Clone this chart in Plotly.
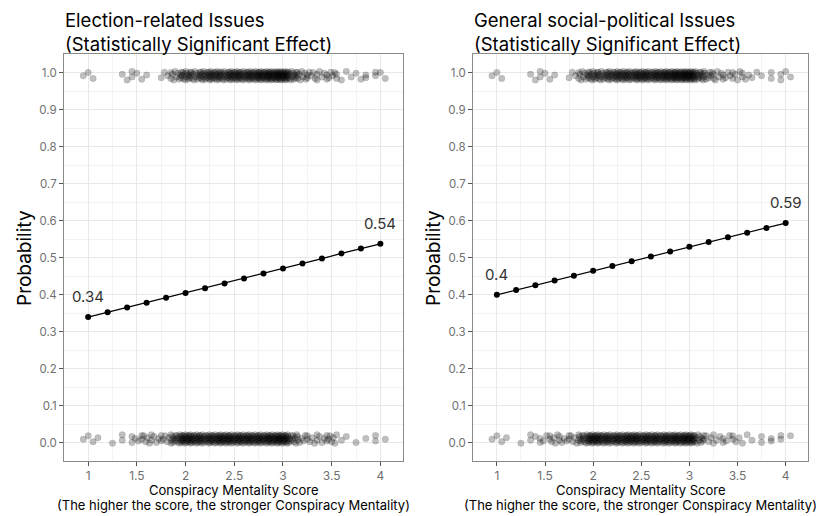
import plotly.graph_objects as go

# ---------------- data ----------------
SCORE_LEVELS = [1.0, 1.1, 1.2, 1.3, 1.4, 1.5, 1.6, 1.7, 1.8, 1.9, 2.0,
                2.1, 2.2, 2.3, 2.4, 2.5, 2.6, 2.7, 2.8, 2.9, 3.0,
                3.1, 3.2, 3.3, 3.4, 3.5, 3.6, 3.7, 3.8, 3.9, 4.0]

# number of respondents per score level (outcome = 1 / outcome = 0)
ELECTION_YES = [3, 0, 0, 0, 3, 3, 1, 0, 4, 8, 14, 12, 16, 18, 16, 20, 18, 20, 22, 24, 26,
                14, 8, 6, 5, 6, 3, 1, 3, 2, 3]
ELECTION_NO = [3, 1, 0, 2, 2, 4, 6, 5, 6, 14, 22, 20, 18, 20, 22, 20, 20, 20, 20, 22, 24,
               12, 6, 5, 5, 7, 1, 2, 0, 2, 2]
SOCIAL_YES = [3, 0, 0, 0, 3, 3, 1, 0, 4, 9, 14, 13, 16, 18, 17, 20, 18, 20, 22, 24, 26,
              15, 9, 6, 5, 5, 4, 1, 2, 2, 3]
SOCIAL_NO = [3, 1, 0, 2, 3, 4, 6, 5, 6, 14, 22, 19, 18, 19, 21, 19, 20, 19, 20, 21, 23,
             11, 5, 4, 4, 4, 1, 2, 2, 2, 2]

CURVE_X = [1.0, 1.2, 1.4, 1.6, 1.8, 2.0, 2.2, 2.4, 2.6, 2.8, 3.0, 3.2, 3.4, 3.6, 3.8, 4.0]
ELECTION_PROB = [0.340, 0.353, 0.366, 0.379, 0.392, 0.405, 0.418, 0.431,
                 0.444, 0.458, 0.471, 0.485, 0.498, 0.512, 0.525, 0.538]
SOCIAL_PROB = [0.400, 0.413, 0.426, 0.439, 0.452, 0.465, 0.478, 0.491,
               0.504, 0.517, 0.530, 0.543, 0.556, 0.568, 0.581, 0.594]

X_TICKS = [1, 1.5, 2, 2.5, 3, 3.5, 4]
Y_TICKS = [0.0, 0.1, 0.2, 0.3, 0.4, 0.5, 0.6, 0.7, 0.8, 0.9, 1.0]

PANEL_TITLES = ["Election-related Issues<br>(Statistically Significant Effect)",
                "General social-political Issues<br>(Statistically Significant Effect)"]
X_TITLE_1 = "Conspiracy Mentality Score"
X_TITLE_2 = "(The higher the score, the stronger Conspiracy Mentality)"
Y_TITLE = "Probability"

# ---------------- rendering constants ----------------
PAGE_MARGIN = 8            # default <body> margin of the html page
W, H = 824 - PAGE_MARGIN, 516 - PAGE_MARGIN
FONT = "Inter"
JITTER_W = 0.05
JITTER_Y_PATTERN = [0.0, 0.009, -0.007, 0.004, -0.011, 0.012, -0.003, 0.007, -0.009, 0.002, -0.005, 0.010]
BAND_CENTER = {1: 0.992, 0: 0.010}


def px_x(p):
    return (p - PAGE_MARGIN) / W


def px_y(p):
    return 1 - (p - PAGE_MARGIN) / H


def jittered(levels, counts, outcome):
    xs, ys = [], []
    k = 0
    for lv, n in zip(levels, counts):
        for i in range(n):
            off = 0.0 if n == 1 else -JITTER_W + 2 * JITTER_W * i / (n - 1)
            xs.append(lv + off)
            ys.append(BAND_CENTER[outcome] + JITTER_Y_PATTERN[k % len(JITTER_Y_PATTERN)])
            k += 1
    return xs, ys


fig = go.Figure()

panels = [
    (ELECTION_YES, ELECTION_NO, ELECTION_PROB, "x", "y"),
    (SOCIAL_YES, SOCIAL_NO, SOCIAL_PROB, "x2", "y2"),
]

for yes, no, prob, xa, ya in panels:
    for counts, outcome in ((no, 0), (yes, 1)):
        xs, ys = jittered(SCORE_LEVELS, counts, outcome)
        fig.add_trace(go.Scatter(
            x=xs, y=ys, mode="markers", xaxis=xa, yaxis=ya,
            marker=dict(size=6.5, color="rgba(0,0,0,0.25)", line=dict(width=1, color="rgba(0,0,0,0.08)")),
            showlegend=False, hoverinfo="skip"))
    fig.add_trace(go.Scatter(
        x=CURVE_X, y=prob, mode="lines+markers", xaxis=xa, yaxis=ya,
        line=dict(color="black", width=1.2),
        marker=dict(size=6, color="black"),
        showlegend=False))
    for idx in (0, -1):
        fig.add_annotation(
            x=CURVE_X[idx], y=prob[idx] + 0.056, xref=xa, yref=ya,
            text=f"{round(prob[idx], 2):g}", showarrow=False,
            font=dict(family=FONT, size=15, color="#333333"))

# layout geometry (page pixels)
PLOT_TOP, PLOT_BOTTOM = 54, 461
panel_px = [(64, 403), (473, 808)]

axis_common_x = dict(
    range=[0.752, 4.232], tickvals=X_TICKS, ticks="outside", ticklen=4,
    tickcolor="#555555", tickfont=dict(family=FONT, size=12, color="#707070"),
    showgrid=True, gridcolor="#e8e8e8", gridwidth=1,
    minor=dict(dtick=0.25, tick0=0, showgrid=True, gridcolor="#f3f3f3", gridwidth=0.6),
    showline=True, mirror=True, linecolor="#8a8a8a", linewidth=1,
    zeroline=False, fixedrange=True,
)
axis_common_y = dict(
    range=[-0.049, 1.051], tickvals=Y_TICKS, tickformat=".1f", ticks="outside", ticklen=4,
    tickcolor="#555555", tickfont=dict(family=FONT, size=11.5, color="#707070"),
    showgrid=True, gridcolor="#e8e8e8", gridwidth=1,
    minor=dict(dtick=0.05, tick0=0, showgrid=True, gridcolor="#f3f3f3", gridwidth=0.6),
    showline=True, mirror=True, linecolor="#8a8a8a", linewidth=1,
    zeroline=False, fixedrange=True,
)

ydom = [px_y(PLOT_BOTTOM), px_y(PLOT_TOP)]
fig.update_layout(
    width=W, height=H, margin=dict(l=0, r=0, t=0, b=0),
    paper_bgcolor="white", plot_bgcolor="white",
    xaxis=dict(domain=[px_x(panel_px[0][0]), px_x(panel_px[0][1])], anchor="y", **axis_common_x),
    yaxis=dict(domain=ydom, anchor="x", **axis_common_y),
    xaxis2=dict(domain=[px_x(panel_px[1][0]), px_x(panel_px[1][1])], anchor="y2", **axis_common_x),
    yaxis2=dict(domain=ydom, anchor="x2", **axis_common_y),
    font=dict(family=FONT),
)

for (l, r), title in zip(panel_px, PANEL_TITLES):
    fig.add_annotation(x=px_x(l - 1), y=px_y(7), xref="paper", yref="paper",
                       xanchor="left", yanchor="top", align="left", showarrow=False,
                       text=title, font=dict(family=FONT, size=18.5, color="black"))
    cx = px_x((l + r) / 2)
    fig.add_annotation(x=cx, y=px_y(490), xref="paper", yref="paper",
                       xanchor="center", yanchor="middle", showarrow=False,
                       text=X_TITLE_1, font=dict(family=FONT, size=13, color="black"))
    fig.add_annotation(x=cx, y=px_y(505), xref="paper", yref="paper",
                       xanchor="center", yanchor="middle", showarrow=False,
                       text=X_TITLE_2, font=dict(family=FONT, size=13, color="black"))
    fig.add_annotation(x=px_x(l - 40), y=px_y(258), xref="paper", yref="paper",
                       xanchor="center", yanchor="middle", showarrow=False, textangle=-90,
                       text=Y_TITLE, font=dict(family=FONT, size=19, color="black"))

fig.write_html("out.html")
